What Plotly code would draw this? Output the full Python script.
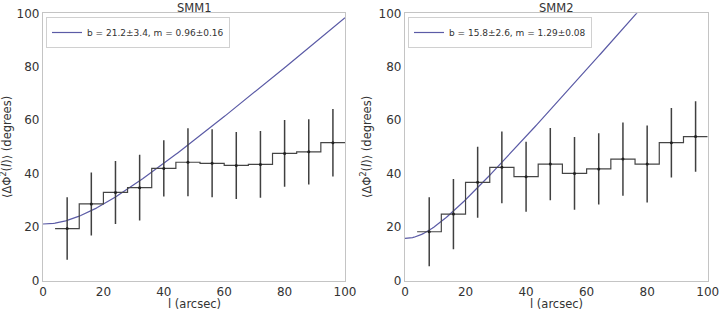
import numpy as np
import plotly.graph_objects as go

# ---- data ----
l_centers = [8, 16, 24, 32, 40, 48, 56, 64, 72, 80, 88, 96]
bin_width = 8

smm1_y = [19.5, 28.7, 33.0, 34.8, 42.0, 44.3, 43.9, 43.1, 43.5, 47.6, 48.2, 51.6]
smm1_err = [11.7, 11.8, 11.8, 12.3, 10.5, 12.7, 12.7, 12.5, 12.5, 12.5, 12.2, 12.6]

smm2_y = [18.3, 24.9, 36.8, 42.4, 38.9, 43.6, 40.1, 41.8, 45.5, 43.6, 51.6, 53.9]
smm2_err = [12.9, 13.1, 13.3, 13.4, 13.1, 13.5, 13.6, 13.3, 13.7, 14.4, 13.0, 13.2]

fit1 = dict(b=21.2, m=0.96, label="b = 21.2±3.4, m = 0.96±0.16")
fit2 = dict(b=15.8, m=1.29, label="b = 15.8±2.6, m = 1.29±0.08")

titles = ["SMM1", "SMM2"]
x_ticks = [0, 20, 40, 60, 80, 100]
y_ticks = [0, 20, 40, 60, 80, 100]

# ---- layout geometry ----
W, H = 720, 311
xdom = [[43 / W, 345 / W], [405 / W, 707.7 / W]]
ydom = [(H - 280.7) / H, (H - 13.3) / H]

fig = go.Figure()
panels = [(smm1_y, smm1_err, fit1), (smm2_y, smm2_err, fit2)]
l_fit = np.linspace(0, 100, 201)

for i, (yv, ev, fit) in enumerate(panels):
    xa = "x" if i == 0 else "x2"
    ya = "y" if i == 0 else "y2"
    leg = "legend" if i == 0 else "legend2"
    # fit model curve
    yfit = np.sqrt(fit["b"] ** 2 + (fit["m"] * l_fit) ** 2)
    fig.add_trace(go.Scatter(x=l_fit, y=yfit, mode="lines",
                             line=dict(color="#5b5ba6", width=1.2),
                             name=fit["label"], legend=leg, showlegend=True,
                             xaxis=xa, yaxis=ya))
    # step histogram
    sx, sy = [], []
    for c, v in zip(l_centers, yv):
        sx += [c - bin_width / 2, c + bin_width / 2]
        sy += [v, v]
    fig.add_trace(go.Scatter(x=sx, y=sy, mode="lines",
                             line=dict(color="#454545", width=1.2),
                             showlegend=False, xaxis=xa, yaxis=ya))
    # error bars
    fig.add_trace(go.Scatter(x=l_centers, y=yv, mode="markers",
                             marker=dict(color="#202020", size=3),
                             error_y=dict(type="data", array=ev, color="#404040",
                                          thickness=1.5, width=0),
                             showlegend=False, xaxis=xa, yaxis=ya))

axis_common = dict(showgrid=False, zeroline=False, showline=True, mirror=True,
                   linecolor="#c4c4c4", linewidth=1.2, ticks="", automargin=False,
                   tickfont=dict(family="DejaVu Sans", size=12, color="#333333"))

leg_common = dict(xanchor="left", yanchor="top",
                  bgcolor="rgba(255,255,255,0.9)", bordercolor="#d0d0d0", borderwidth=1,
                  font=dict(family="DejaVu Sans", size=9, color="#333333"),
                  itemwidth=30, tracegroupgap=0)

fig.update_layout(
    width=W, height=H, margin=dict(l=0, r=0, t=0, b=0, autoexpand=False),
    paper_bgcolor="white", plot_bgcolor="white",
    xaxis=dict(domain=xdom[0], range=[0, 100], tickvals=x_ticks, anchor="y", **axis_common),
    yaxis=dict(domain=ydom, range=[0, 100], tickvals=y_ticks, anchor="x", **axis_common),
    xaxis2=dict(domain=xdom[1], range=[0, 100], tickvals=x_ticks, anchor="y2", **axis_common),
    yaxis2=dict(domain=ydom, range=[0, 100], tickvals=y_ticks, anchor="x2", **axis_common),
    legend=dict(x=46 / W, y=1 - 17 / H, **leg_common),
    legend2=dict(x=408 / W, y=1 - 17 / H, **leg_common),
    showlegend=True,
)

ann_font = dict(family="DejaVu Sans", size=11.5, color="#333333")
ylab = "⟨ΔΦ<sup>2</sup>(<i>l</i>)⟩ (degrees)"
for i in range(2):
    cx = (xdom[i][0] + xdom[i][1]) / 2
    fig.add_annotation(text=titles[i], x=cx, y=1 - 8 / H, xref="paper", yref="paper",
                       showarrow=False, font=ann_font, xanchor="center", yanchor="middle")
    fig.add_annotation(text="l (arcsec)", x=cx, y=1 - 304 / H, xref="paper", yref="paper",
                       showarrow=False, font=ann_font, xanchor="center", yanchor="middle")
    lx = 7 if i == 0 else 367
    fig.add_annotation(text=ylab, x=lx / W, y=1 - 147 / H, xref="paper", yref="paper",
                       showarrow=False, font=ann_font, textangle=-90,
                       xanchor="center", yanchor="middle")

fig.write_html("out.html")
